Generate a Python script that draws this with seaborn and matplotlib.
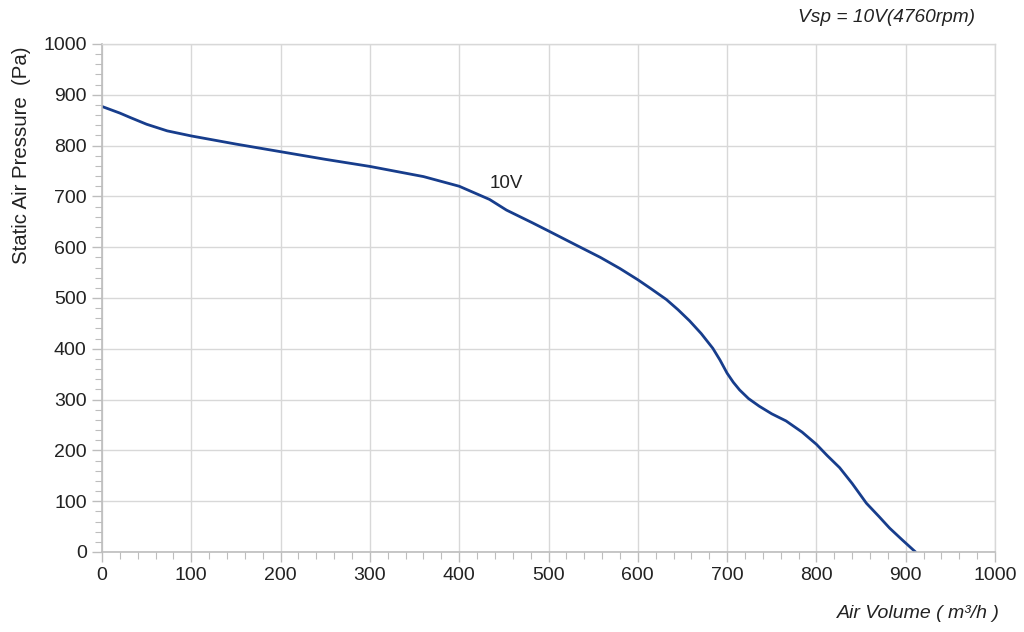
import numpy as np
import pandas as pd
import matplotlib
matplotlib.use("Agg")
import matplotlib.pyplot as plt
from matplotlib.ticker import MultipleLocator
import seaborn as sns

# Fan curve (Vsp = 10V)
air_volume = [0, 20, 32, 50, 73, 100, 150, 200, 250, 300, 360, 400, 434, 453,
              482, 500, 530, 558, 580, 600, 615, 632, 645, 658, 671, 684, 692,
              700, 707, 714, 724, 736, 750, 766, 784, 800, 812, 826, 840, 856,
              870, 882, 896, 911]
pressure = [877, 864, 855, 842, 829, 819, 803, 788, 773, 759, 739, 720, 694, 673,
            648, 632, 605, 580, 558, 536, 518, 497, 477, 455, 430, 401, 378,
            352, 334, 319, 302, 287, 272, 258, 236, 212, 190, 166, 135, 96,
            70, 47, 24, 0]

curve_label = "10V"
title_text = "Vsp = 10V(4760rpm)"
x_label = "Air Volume ( m³/h )"
y_label = "Static Air Pressure  (Pa)"

df = pd.DataFrame({"air_volume": air_volume, "pressure": pressure})

sns.set_theme(style="white")
plt.rcParams["font.family"] = ["Liberation Sans", "DejaVu Sans"]

fig = plt.figure(figsize=(10.24, 6.32), dpi=100)
ax = fig.add_axes([102 / 1024, 80 / 632, 893 / 1024, 508 / 632])

sns.lineplot(data=df, x="air_volume", y="pressure", ax=ax,
             color="#173d8c", linewidth=2.0, sort=False)

ax.set_xlim(0, 1000)
ax.set_ylim(0, 1000)
ax.xaxis.set_major_locator(MultipleLocator(100))
ax.yaxis.set_major_locator(MultipleLocator(100))
ax.xaxis.set_minor_locator(MultipleLocator(20))
ax.yaxis.set_minor_locator(MultipleLocator(20))

grid_col = "#d8d8d8"
ax.grid(True, which="major", color=grid_col, linewidth=1.0)
ax.set_axisbelow(True)
for side in ["top", "right"]:
    ax.spines[side].set_color(grid_col)
    ax.spines[side].set_linewidth(1.0)
for side in ["left", "bottom"]:
    ax.spines[side].set_color("#bdbdbd")
    ax.spines[side].set_linewidth(1.2)

ax.tick_params(which="major", direction="out", length=7, width=1.0,
               color="#bdbdbd", labelsize=14, labelcolor="#222222", pad=4)
ax.tick_params(which="minor", direction="out", length=5, width=0.8,
               color="#bdbdbd")
ax.tick_params(axis="both", which="both", bottom=True, left=True)

ax.set_xlabel("")
ax.set_ylabel("")

ax.text(434, 726, curve_label, fontsize=13.5, ha="left", va="center",
        color="#222222")

fig.text(22 / 1024, 1 - 155 / 632, y_label, fontsize=14.7, rotation=90,
         ha="center", va="center", color="#222222")
fig.text(975 / 1024, 1 - 18 / 632, title_text, fontsize=13.8, style="italic",
         ha="right", va="center", color="#222222")
fig.text(1000 / 1024, 1 - 613 / 632, x_label, fontsize=14, style="italic",
         ha="right", va="center", color="#222222")

fig.savefig("out.png", dpi=100)
